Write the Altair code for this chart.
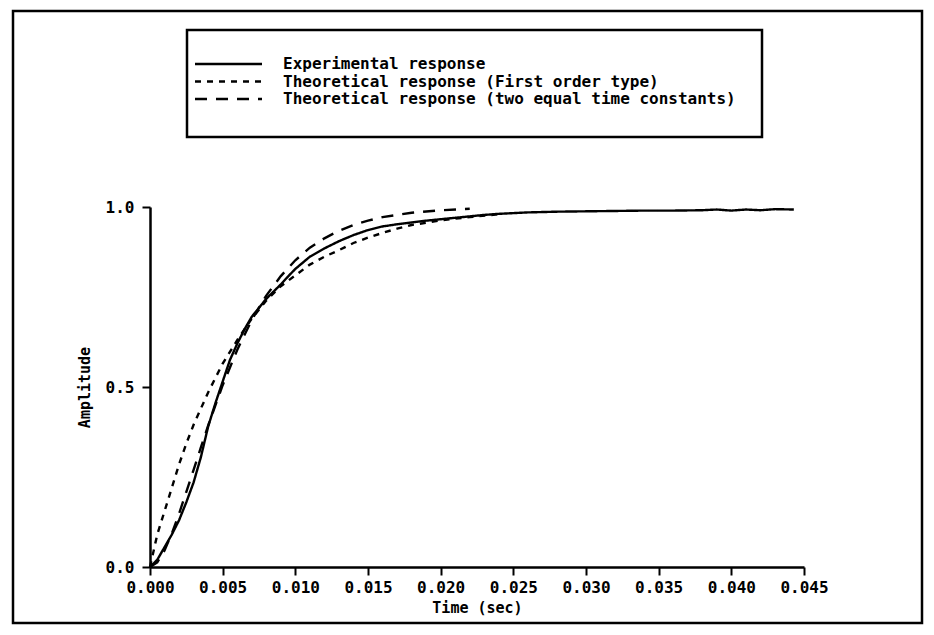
import altair as alt
import pandas as pd

series_names = [
    "Experimental response",
    "Theoretical response (First order type)",
    "Theoretical response (two equal time constants)",
]

# Experimental response (time in ms, amplitude)
exp_time_ms = [0, 0.5, 1, 1.5, 2, 2.5, 3, 3.5, 4, 4.5, 5, 5.5, 6, 6.5, 7, 7.5, 8, 8.5, 9,
               9.5, 10, 11, 12, 13, 14, 15, 16, 17, 18, 19, 20, 21, 22, 23, 24, 26, 28,
               30, 32, 34, 36, 38, 39, 40, 41, 42, 43, 44.3]
exp_amp = [0.0, 0.02, 0.055, 0.09, 0.13, 0.18, 0.235, 0.305, 0.39, 0.455, 0.515, 0.575,
           0.62, 0.66, 0.695, 0.72, 0.745, 0.765, 0.785, 0.807, 0.828, 0.862, 0.885,
           0.905, 0.922, 0.936, 0.946, 0.952, 0.957, 0.962, 0.966, 0.970, 0.974, 0.978,
           0.981, 0.985, 0.987, 0.988, 0.989, 0.990, 0.990, 0.991, 0.993, 0.990, 0.993,
           0.991, 0.994, 0.993]

# Theoretical response, first order type
first_time_ms = [0, 0.5, 1, 1.5, 2, 2.5, 3, 3.5, 4, 5, 6, 7, 8, 9, 10, 11, 12, 13, 14, 15,
                 16, 17, 18, 19, 20, 22, 24]
first_amp = [0.0, 0.09, 0.155, 0.22, 0.285, 0.343, 0.395, 0.44, 0.485, 0.565, 0.63, 0.69,
             0.74, 0.78, 0.81, 0.84, 0.862, 0.88, 0.9, 0.915, 0.928, 0.94, 0.95, 0.956,
             0.963, 0.972, 0.98]

# Theoretical response, two equal time constants
two_time_ms = [0, 0.5, 1, 1.5, 2, 2.5, 3, 3.5, 4, 5, 6, 7, 8, 9, 10, 11, 12, 13, 14, 15,
               16, 18, 20, 22]
two_amp = [0.0, 0.013, 0.046, 0.093, 0.148, 0.209, 0.27, 0.332, 0.393, 0.505, 0.603, 0.686,
           0.754, 0.808, 0.852, 0.887, 0.913, 0.934, 0.95, 0.962, 0.972, 0.984, 0.991,
           0.995]

x_ticks = [0.000, 0.005, 0.010, 0.015, 0.020, 0.025, 0.030, 0.035, 0.040, 0.045]
y_ticks = [0.0, 0.5, 1.0]
dash_patterns = [[1, 0], [6, 6], [12, 9]]

rows = []
for name, ts, vs in zip(series_names,
                        [exp_time_ms, first_time_ms, two_time_ms],
                        [exp_amp, first_amp, two_amp]):
    for t, v in zip(ts, vs):
        rows.append({"series": name, "time": t / 1000.0, "amp": v})
df = pd.DataFrame(rows)

legend_df = pd.DataFrame({"series": series_names, "row": [0, 1, 2]})

FONT = "DejaVu Sans Mono"
dash_scale = alt.Scale(domain=series_names, range=dash_patterns)

lines = alt.Chart(df).mark_line(color="black", strokeWidth=2.4).encode(
    x=alt.X("time:Q", scale=alt.Scale(domain=[0, 0.045], nice=False, zero=False),
            axis=alt.Axis(values=x_ticks, format=".3f", title="Time (sec)",
                          labelPadding=4, titlePadding=5, labelFlush=False,
                          labelOverlap=False)),
    y=alt.Y("amp:Q", scale=alt.Scale(domain=[0, 1], nice=False),
            axis=alt.Axis(values=y_ticks, format=".1f", title="Amplitude",
                          labelPadding=8, titlePadding=13)),
    strokeDash=alt.StrokeDash("series:N", scale=dash_scale, legend=None),
    detail="series:N",
)

leg_y = alt.Y("row:Q", scale=alt.Scale(domain=[0, 2], range=[-143, -108]), axis=None)

legend_lines = alt.Chart(legend_df).mark_rule(color="black", strokeWidth=2.4).encode(
    x=alt.value(45), x2=alt.value(112), y=leg_y,
    strokeDash=alt.StrokeDash("series:N", scale=dash_scale, legend=None),
)
legend_text = alt.Chart(legend_df).mark_text(
    align="left", baseline="middle", font=FONT, fontSize=16, fontWeight="bold", color="black"
).encode(x=alt.value(133), y=leg_y, text="series:N")

legend_box = alt.Chart(pd.DataFrame({"k": [0]})).mark_rect(
    fillOpacity=0, stroke="black", strokeWidth=2.5
).encode(x=alt.value(37), x2=alt.value(612), y=alt.value(-177), y2=alt.value(-70))

frame = alt.Chart(pd.DataFrame({"k": [0]})).mark_rect(
    fillOpacity=0, stroke="black", strokeWidth=2.5
).encode(x=alt.value(-137), x2=alt.value(772), y=alt.value(-196), y2=alt.value(416))

chart = alt.layer(lines, legend_lines, legend_text, legend_box, frame).resolve_scale(
    y="independent"
).properties(
    width=654, height=360,
    autosize="none",
    padding={"left": 142, "top": 207 - 8, "right": 122, "bottom": 60},
).configure_view(strokeWidth=0).configure_axis(
    domainColor="black", domainWidth=2.5, tickColor="black", tickWidth=2, tickSize=8,
    labelFont=FONT, labelFontSize=16, labelFontWeight="bold", labelColor="black",
    titleFont=FONT, titleFontSize=15, titleFontWeight="bold", titleColor="black",
    grid=False,
)

chart.save("out.html", embed_options={"renderer": "svg", "actions": False})
